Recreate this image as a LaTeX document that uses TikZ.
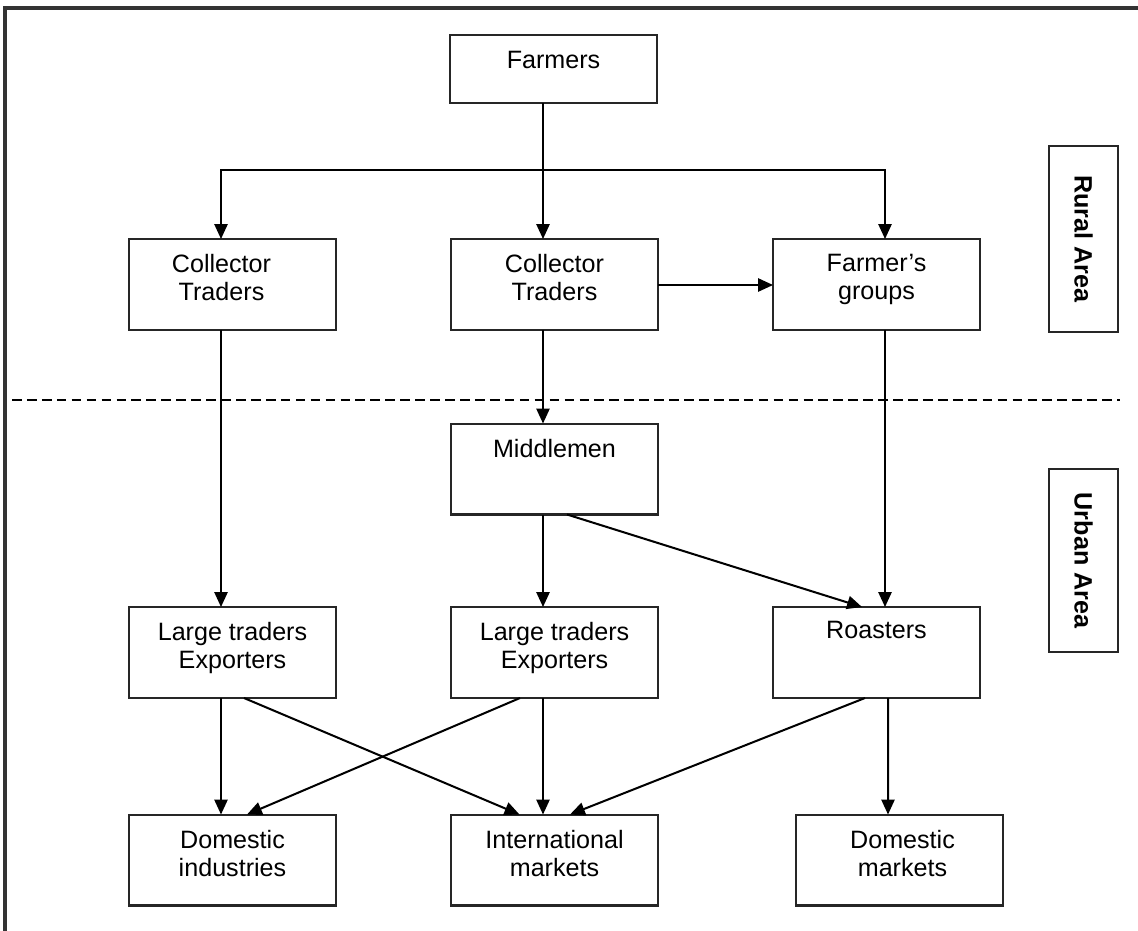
\documentclass[tikz,border=0pt]{standalone}
\usepackage{fontspec}
\setmainfont{Liberation Sans}
\usetikzlibrary{calc,arrows.meta}
\tikzset{
  box/.style={draw=black!85, line width=1.15pt, minimum width=4.14cm, minimum height=1.82cm, inner sep=0pt, outer sep=0pt},
  txt/.style={anchor=north, align=center, inner sep=0pt, font=\fontsize{14.3}{15.9}\selectfont},
  arr/.style={draw=black, line width=1.15pt, -{Triangle[length=8.5pt,width=7.5pt]}},
  area/.style={draw=black!85, line width=1.15pt, minimum width=1.38cm, inner sep=0pt, outer sep=0pt},
  areatxt/.style={rotate=-90, inner sep=0pt, font=\fontsize{14.3}{17}\selectfont\bfseries}
}
\begin{document}
\begin{tikzpicture}[x=0.02cm, y=-0.02cm]
\useasboundingbox (0,0) rectangle (1138,930);
\fill[white] (0,0) rectangle (1138,930);
% outer frame (cut at right and bottom)
\draw[line width=2pt, draw=black!80] (5,935) -- (5,8) -- (1145,8);

% boxes
\node[box, minimum height=1.36cm] (farmers) at (553.5,69) {};
\node[box] (ct1) at (232.5,284.5) {};
\node[box] (ct2) at (554.5,284.5) {};
\node[box] (fg) at (876.5,284.5) {};
\node[box] (mid) at (554.5,469) {};
\node[box] (lt1) at (232.5,652.5) {};
\node[box] (lt2) at (554.5,652.5) {};
\node[box] (roast) at (876.5,652.5) {};
\node[box] (di) at (232.5,860) {};
\node[box] (im) at (554.5,860) {};
\node[box] (dm) at (899.5,860) {};

% texts
\node[txt] (tfarmers) at ($(farmers.north)+(0,16)$) {Farmers};
\node[txt] (tct1) at ($(ct1.north)+(-11,15)$) {Collector\\Traders};
\node[txt] (tct2) at ($(ct2.north)+(0,15)$) {Collector\\Traders};
\node[txt] (tfg) at ($(fg.north)+(0,15)$) {Farmer’s\\groups};
\node[txt] (tmid) at ($(mid.north)+(0,15)$) {Middlemen};
\node[txt] (tlt1) at ($(lt1.north)+(0,15)$) {Large traders\\Exporters};
\node[txt] (tlt2) at ($(lt2.north)+(0,15)$) {Large traders\\Exporters};
\node[txt] (troast) at ($(roast.north)+(0,14)$) {Roasters};
\node[txt] (tdi) at ($(di.north)+(0,15)$) {Domestic\\industries};
\node[txt] (tim) at ($(im.north)+(0,15)$) {International\\markets};
\node[txt] (tdm) at ($(dm.north)+(3,15)$) {Domestic\\markets};

% area labels
\node[area, minimum height=3.72cm] (rural) at (1083.5,239) {};
\node[areatxt] (trural) at (rural.center) {Rural Area};
\node[area, minimum height=3.66cm] (urban) at (1083.5,560.5) {};
\node[areatxt] (turban) at (urban.center) {Urban Area};

% dashed separator
\coordinate (dl) at (12,400);
\coordinate (dr) at (1120,400);
\draw[line width=0.9pt, dash pattern=on 5.5pt off 3pt] (dl) -- (dr);

% connectors
\coordinate (br) at ($(farmers.south)+(-10.5,67)$);
\draw[arr] ($(farmers.south)+(-10.5,0)$) -- ($(ct2.north)+(-11.5,0)$);
\draw[arr] (br) -| ($(ct1.north)+(-11.5,0)$);
\draw[arr] (br) -| ($(fg.north)+(8.5,0)$);
\draw[arr] ($(ct2.east)+(0,0.5)$) -- ($(fg.west)+(0,0.5)$);

\draw[arr] ($(ct1.south)+(-11.5,0)$) -- ($(lt1.north)+(-11.5,0)$);
\draw[arr] ($(ct2.south)+(-11.5,0)$) -- ($(mid.north)+(-11.5,0)$);
\draw[arr] ($(fg.south)+(8.5,0)$) -- ($(roast.north)+(8.5,0)$);

\draw[arr] ($(mid.south)+(-11.5,0)$) -- ($(lt2.north)+(-11.5,0)$);
\draw[arr] ($(mid.south)+(12.5,0)$) -- ($(roast.north)+(-14.5,0)$);

\draw[arr] ($(lt1.south)+(-11.5,0)$) -- ($(di.north)+(-11.5,0)$);
\draw[arr] ($(lt1.south)+(11.5,0)$) -- ($(im.north)+(-35,0)$);
\draw[arr] ($(lt2.south)+(-34.5,0)$) -- ($(di.north)+(14.5,0)$);
\draw[arr] ($(lt2.south)+(-11.5,0)$) -- ($(im.north)+(-11.5,0)$);
\draw[arr] ($(roast.south)+(-11.5,0)$) -- ($(im.north)+(15.5,0)$);
\draw[arr] ($(roast.south)+(11.5,0)$) -- ($(dm.north)+(-11.5,0)$);
\end{tikzpicture}
\end{document}
